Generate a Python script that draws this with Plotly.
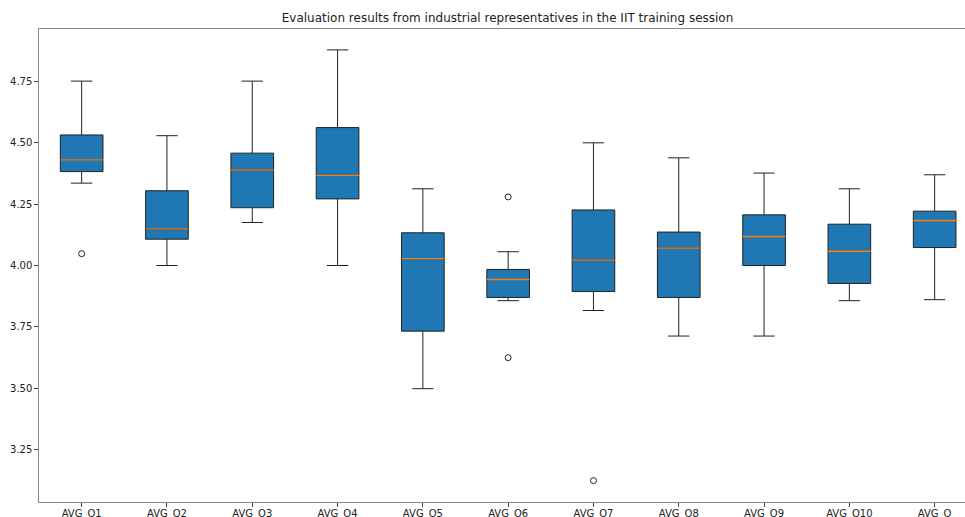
import plotly.graph_objects as go

labels = ["AVG_Q1", "AVG_Q2", "AVG_Q3", "AVG_Q4", "AVG_Q5", "AVG_Q6",
          "AVG_Q7", "AVG_Q8", "AVG_Q9", "AVG_Q10", "AVG_Q"]
positions = list(range(1, len(labels) + 1))

lower_whisker = [4.335, 4.000, 4.175, 4.000, 3.499, 3.857, 3.817, 3.713, 3.713, 3.857, 3.861]
q1_vals       = [4.382, 4.107, 4.235, 4.271, 3.733, 3.870, 3.894, 3.870, 4.000, 3.927, 4.073]
medians       = [4.430, 4.149, 4.389, 4.367, 4.028, 3.943, 4.022, 4.071, 4.118, 4.058, 4.183]
q3_vals       = [4.531, 4.304, 4.457, 4.561, 4.133, 3.984, 4.226, 4.136, 4.206, 4.168, 4.221]
upper_whisker = [4.750, 4.528, 4.750, 4.877, 4.312, 4.056, 4.499, 4.438, 4.376, 4.312, 4.369]

outlier_pos = [1, 6, 6, 7]
outlier_vals = [4.048, 4.279, 3.625, 3.125]

BOX_W = 0.5
fig = go.Figure()
fig.add_trace(go.Box(
    x=positions, q1=q1_vals, median=medians, q3=q3_vals,
    lowerfence=lower_whisker, upperfence=upper_whisker,
    width=BOX_W, whiskerwidth=0.5, boxpoints=False,
    fillcolor="#1f77b4", line=dict(color="#222222", width=1),
    showlegend=False, hoverinfo="skip",
))

# orange median lines
mx, my = [], []
for p, m in zip(positions, medians):
    mx += [p - BOX_W / 2, p + BOX_W / 2, None]
    my += [m, m, None]
fig.add_trace(go.Scatter(x=mx, y=my, mode="lines",
                         line=dict(color="#ff7f0e", width=1.3),
                         showlegend=False, hoverinfo="skip"))

fig.add_trace(go.Scatter(x=outlier_pos, y=outlier_vals, mode="markers",
                         marker=dict(symbol="circle-open", size=6,
                                     color="#222222", line=dict(width=1)),
                         showlegend=False, hoverinfo="skip"))

fig.update_layout(
    width=965, height=517,
    margin=dict(l=39, r=0, t=29, b=15, autoexpand=False),
    paper_bgcolor="white", plot_bgcolor="white",
    font=dict(family="DejaVu Sans", size=10, color="#222222"),
    title=dict(text="Evaluation results from industrial representatives in the IIT training session",
               x=507.5 / 965, xref="container", xanchor="center",
               y=1 - 18 / 517, yanchor="middle",
               font=dict(size=12, color="#222222")),
    xaxis=dict(range=[0.5, 0.5 + (965 - 39) / 85.3],
               tickvals=positions, ticktext=labels, automargin=False,
               showline=True, linecolor="#888888", linewidth=1.3, mirror=True,
               ticks="outside", ticklen=3.5, tickcolor="#444444",
               ticklabelstandoff=-2,
               showgrid=False, zeroline=False),
    yaxis=dict(range=[3.038, 4.962], automargin=False,
               tickvals=[3.25, 3.5, 3.75, 4.0, 4.25, 4.5, 4.75],
               ticktext=["3.25", "3.50", "3.75", "4.00", "4.25", "4.50", "4.75"],
               showline=True, linecolor="#888888", linewidth=1.3,
               ticks="outside", ticklen=3.5, tickcolor="#444444",
               showgrid=False, zeroline=False),
)

fig.write_html(
    "out.html",
    config={"responsive": False, "displayModeBar": False},
    post_script="document.body.style.margin='0';document.body.style.overflow='hidden';",
)
